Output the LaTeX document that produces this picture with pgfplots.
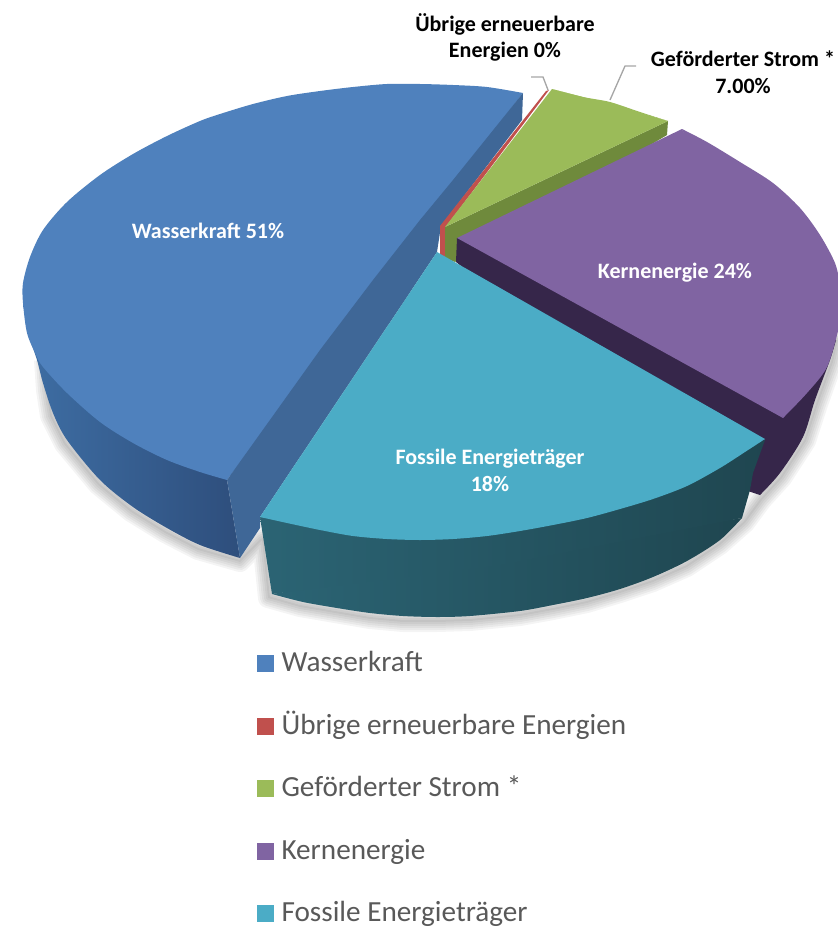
\documentclass[border=0pt]{standalone}
\usepackage{fontspec}
\setmainfont{Carlito}
\usepackage{pgfplots}
\usepackage{pgfplotstable}
\pgfplotsset{compat=1.18}
\definecolor{cBlue}{HTML}{4F81BD}
\definecolor{cBlueStrip}{HTML}{3F6797}
\definecolor{cBlueL}{HTML}{3E6EA4}
\definecolor{cBlueR}{HTML}{2E4E7C}
\definecolor{cRed}{HTML}{C0504D}
\definecolor{cGreen}{HTML}{9BBB59}
\definecolor{cGreenD}{HTML}{6F8A3C}
\definecolor{cPurple}{HTML}{8064A2}
\definecolor{cPurpleD}{HTML}{36264A}
\definecolor{cTeal}{HTML}{4BACC6}
\definecolor{cTealL}{HTML}{2B6474}
\definecolor{cTealR}{HTML}{1F4650}
\definecolor{cText}{HTML}{595959}
\definecolor{cLeader}{HTML}{A6A6A6}
\pgfplotsset{
  pie/.style={forget plot,draw=none,no marks},
  pies/.style={pie,smooth},
  shad/.style={pie,draw=black,opacity=.045,line join=round},
  sq/.style={legend image code/.code={\fill[draw=none,##1] (0pt,-8.75pt) rectangle (12.75pt,4pt);}},
}
\tikzset{
  lab/.style={font=\fontsize{16.5pt}{20pt}\selectfont\bfseries,text=white,inner sep=0pt},
  labk/.style={font=\fontsize{16.5pt}{20pt}\selectfont\bfseries,text=black,inner sep=0pt}
}
\pgfplotstableread{
x y
44 360
46 390
50 416
64 444
98 485
131 512
165 533
198 550
240 562
262 540
268 598
300 607
335 613
370 619
403 622
437 622
470 621
520 616
553 610
587 603
620 593
653 582
687 567
720 545
745 523
762 500
782 478
806 441
818 404
833 362
838 340
600 300
300 300
44 360
}\shadowtab
\begin{document}
\begin{tikzpicture}
\path[use as bounding box] (0,0) rectangle (628.5pt,696pt);
\begin{axis}[
  scale only axis, width=628.5pt, height=696pt,
  xmin=0, xmax=838, ymin=0, ymax=928, y dir=reverse,
  axis lines=none, clip=true,
  legend style={at={(axis cs:257,645)},anchor=north west,draw=none,fill=none,
    font=\fontsize{21.9pt}{26pt}\selectfont\color{cText},row sep=23.1pt,inner sep=0pt,outer sep=0pt,
    /tikz/every even column/.style={column sep=0pt}},
  legend cell align=left,
]
% soft shadow
\addplot[pie,fill=black,opacity=.045] table {\shadowtab};
\addplot[shad,line width=3pt] table {\shadowtab};
\addplot[shad,line width=6pt] table {\shadowtab};
\addplot[shad,line width=9pt] table {\shadowtab};
\addplot[shad,line width=12pt] table {\shadowtab};
\addplot[shad,line width=15pt] table {\shadowtab};
% Wasserkraft: outer side (lower arc, then the part above its chord)
\addplot[pies,left color=cBlueL,right color=cBlueR] coordinates {
 (23,303)(29,335)(37,360)(43,383)(53,413)(67,440)(100,480)(133,507)(167,528)(200,545)(240,558)};
\addplot[pie,left color=cBlueL,right color=cBlueR] coordinates {(23,303)(140,450)(240,558)(227,480)} --cycle;
% Wasserkraft: top
\addplot[pies,fill=cBlue] coordinates {
 (523,93)(487,87)(453,85)(420,84)(387,84)(353,87)(320,91)(287,96)(253,104)(220,114)(200,121)(167,136)(133,154)(100,175)(67,202)(43,230)(30,257)(23,283)(23,303)(27,333)(36,355)(43,367)(67,393)(100,422)(133,443)(167,460)(200,472)(227,480)};
% Wasserkraft: cut face
\addplot[pie,fill=cBlueStrip] coordinates {
 (523,93)(522,120)(441,226)(437,252)(260,517)(260,528)(240,558)(227,480)(320,350)(373,280)(420,220)(453,180)} --cycle;
% red slice
\addplot[pie,fill=cRed] coordinates {(549,90)(445,228)(445,258)(440,255)(440,226)(546,91)} --cycle;
% green side and top
\addplot[pie,fill=cGreenD] coordinates {(668,121)(667,135)(455,262)(445,258)(445,227)} --cycle;
\addplot[pies,fill=cGreen] coordinates {(552,89)(583,97)(610,102)(640,112)(668,121)};
\addplot[pie,fill=cGreen] coordinates {(445,227)(552,89)(610,104)(668,121)} --cycle;
% purple side and top
\addplot[pies,fill=cPurpleD] coordinates {(836,340)(830,360)(815,400)(803,437)(780,473)(760,495)};
\addplot[pie,fill=cPurpleD] coordinates {(457,238)(836,340)(795,440)(760,495)(745,490)(456,262)} --cycle;
\addplot[pies,fill=cPurple] coordinates {
 (682,129)(707,142)(740,162)(773,183)(800,208)(820,235)(835,263)(840,285)(842,305)(839,327)(827,367)(807,393)(783,418)};
\addplot[pie,fill=cPurple] coordinates {(457,238)(682,129)(760,300)(783,418)} --cycle;
% teal side and top
\addplot[pies,left color=cTealL,middle color=cTealR,right color=cTealR] coordinates {
 (272,594)(303,602)(337,608)(370,613)(403,616)(437,617)(470,616)(520,611)(553,605)(587,598)(620,589)(653,577)(687,561)(720,540)(742,518)};
\addplot[pie,left color=cTealL,middle color=cTealR,right color=cTealR] coordinates {
 (260,517)(272,594)(500,565)(742,518)(750,490)(753,473)(765,440)(420,530)} --cycle;
\addplot[pies,fill=cTeal] coordinates {
 (260,517)(287,523)(320,530)(353,536)(387,539)(420,540)(453,539)(487,536)(520,531)(553,525)(587,518)(620,509)(653,499)(687,486)(720,468)(745,452)(765,439)};
\addplot[pie,fill=cTeal] coordinates {(437,252)(260,517)(500,520)(765,439)} --cycle;
% leader lines
\addplot[pie,draw=cLeader,line width=1pt] coordinates {(610,100)(625,66)(636,66)};
\addplot[pie,draw=cLeader,line width=1pt] coordinates {(548,90)(543,77)(531,77)};
% labels
\node[lab] at (axis cs:208,231) {Wasserkraft 51\%};
\node[lab] at (axis cs:675,273) {Kernenergie 24\%};
\node[lab] at (axis cs:490,459) {Fossile Energieträger};
\node[lab] at (axis cs:490,484) {18\%};
\node[labk] at (axis cs:505,24) {Übrige erneuerbare};
\node[labk] at (axis cs:505,52) {Energien 0\%};
\node[labk] at (axis cs:743,59) {Geförderter Strom *};
\node[labk] at (axis cs:743,86) {7.00\%};
% legend
\addlegendimage{sq,fill=cBlue}\addlegendentry{\strut\,Wasserkraft}
\addlegendimage{sq,fill=cRed}\addlegendentry{\strut\,Übrige erneuerbare Energien}
\addlegendimage{sq,fill=cGreen}\addlegendentry{\strut\,Geförderter Strom *}
\addlegendimage{sq,fill=cPurple}\addlegendentry{\strut\,Kernenergie}
\addlegendimage{sq,fill=cTeal}\addlegendentry{\strut\,Fossile Energieträger}
\end{axis}
\end{tikzpicture}
\end{document}
